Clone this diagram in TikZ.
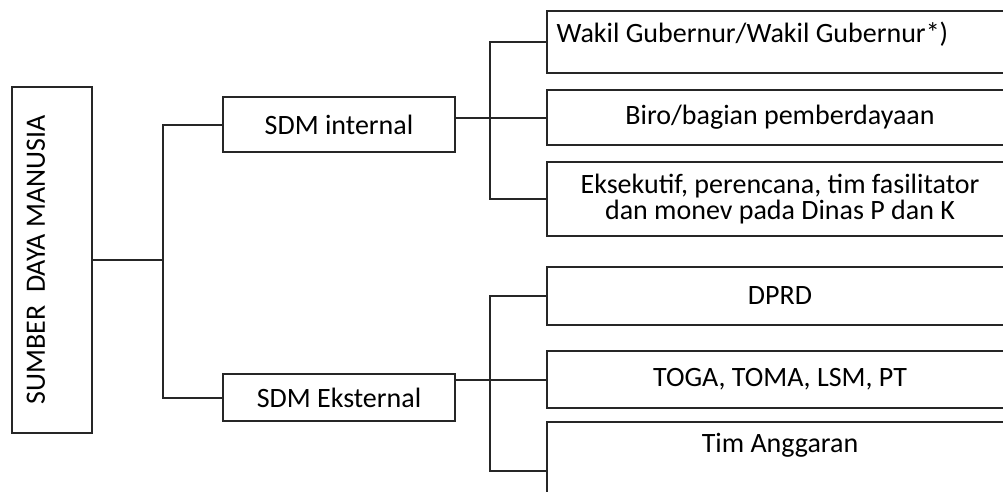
\documentclass[tikz,border=0pt]{standalone}
\usepackage{fontspec}
\setmainfont{Carlito}
\usetikzlibrary{positioning,calc}

\begin{document}
\begin{tikzpicture}[
    x=1pt, y=-1pt,
    font=\fontsize{28}{26}\selectfont,
    box/.style={draw=black!85, line width=2pt, minimum width=232pt, minimum height=55pt, align=center, inner sep=0pt},
    rbox/.style={box, minimum width=466pt},
    link/.style={draw=black!85, line width=2pt},
]
    \useasboundingbox (0,0) rectangle (1003,491);
    \clip (0,0) rectangle (1003,491);

    \node[box, minimum width=80pt, minimum height=346pt] (root) at (52,260) {\rotatebox{90}{SUMBER\ \ DAYA MANUSIA}\hspace*{32pt}};
    \node[box] (int) at (339,124.5) {SDM internal};
    \node[box, minimum height=47pt] (ext) at (339,397.5) {SDM Eksternal};

    \node[rbox, minimum height=62pt, label={[anchor=north west, xshift=7pt, yshift=-8pt]north west:Wakil Gubernur/Wakil Gubernur*)}] (wakil) at (780,42) {};
    \node[rbox] (biro) at (780,117.5) {Biro/bagian pemberdayaan};
    \node[rbox, minimum height=74pt] (eks) at (780,199) {Eksekutif, perencana, tim fasilitator\\dan monev pada Dinas P dan K};
    \node[rbox, minimum height=58pt] (dprd) at (780,296) {DPRD};
    \node[rbox, minimum height=57pt] (toga) at (780,379.5) {TOGA, TOMA, LSM, PT};
    \node[rbox, minimum height=98pt, label={[anchor=north, yshift=-9pt]north:Tim Anggaran}] (tim) at (780,471) {};

    \coordinate (jroot) at (163,260);
    \coordinate (bus) at (490,0);

    \draw[link] (root.east) -- (jroot);
    \draw[link] (int.west) -| (jroot) |- (ext.west);
    \draw[link] (int.east |- biro.west) -- (biro.west);
    \draw[link] (wakil.west) -| (bus |- eks.west) -- (eks.west);
    \draw[link] (ext.east |- toga.west) -- (toga.west);
    \draw[link] (dprd.west) -| (bus |- tim.west) -- (tim.west);
\end{tikzpicture}
\end{document}
